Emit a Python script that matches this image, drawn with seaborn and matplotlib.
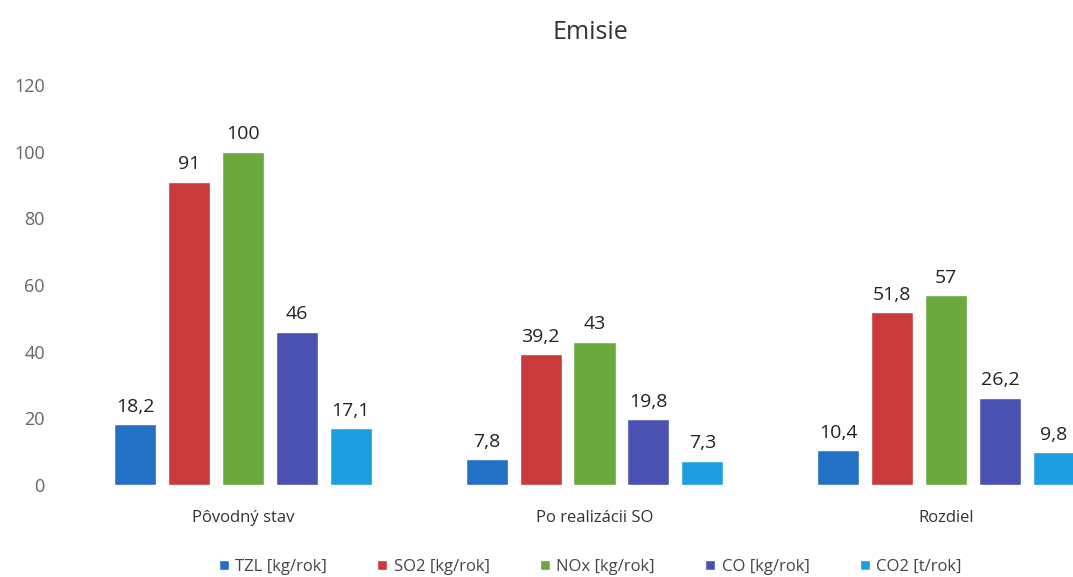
"""Grouped bar chart of emissions before/after the project."""

import matplotlib

matplotlib.use("Agg")

import matplotlib.pyplot as plt
import pandas as pd
import seaborn as sns

categories = ["Pôvodný stav", "Po realizácii SO", "Rozdiel"]
series = ["TZL [kg/rok]", "SO2 [kg/rok]", "NOx [kg/rok]", "CO [kg/rok]", "CO2 [t/rok]"]
tzl = [18.2, 7.8, 10.4]
so2 = [91, 39.2, 51.8]
nox = [100, 43, 57]
co = [46, 19.8, 26.2]
co2 = [17.1, 7.3, 9.8]
colors = ["#2371c4", "#c83a3c", "#6ba93c", "#4b51b1", "#1c9ee0"]

rows = []
for name, values in zip(series, [tzl, so2, nox, co, co2]):
    for cat, val in zip(categories, values):
        rows.append({"kategoria": cat, "seria": name, "hodnota": val})
data = pd.DataFrame(rows)

sns.set_theme(style="white")
plt.rcParams["font.family"] = ["Open Sans", "DejaVu Sans"]

fig = plt.figure(figsize=(10.73, 5.77), dpi=100)
ax = fig.add_axes([67 / 1073, 92 / 577, 1055 / 1073, 400 / 577])

sns.barplot(
    data=data, x="kategoria", y="hodnota", hue="seria",
    order=categories, hue_order=series, palette=colors,
    width=0.767, gap=0.22, saturation=1, ax=ax,
)

def fmt(v):
    return f"{v:g}".replace(".", ",")

for container in ax.containers:
    ax.bar_label(container, labels=[fmt(b.get_height()) for b in container],
                 padding=6, fontsize=14, color="#222222")

ax.set_ylim(0, 120)
ax.set_yticks(range(0, 121, 20))
ax.set_xlabel("")
ax.set_ylabel("")
ax.tick_params(axis="y", labelsize=13, labelcolor="#666666", pad=16, length=0)
ax.tick_params(axis="x", labelsize=12, labelcolor="#333333", pad=18, length=0)
sns.despine(ax=ax, left=True, bottom=True)

fig.suptitle("Emisie", x=0.55, y=0.965, fontsize=18, color="#333333")

handles, labels = ax.get_legend_handles_labels()
ax.legend_.remove()
fig.legend(handles, labels, loc="lower center", bbox_to_anchor=(0.55, -0.022),
           ncol=5, frameon=False, fontsize=12, handlelength=0.6,
           handleheight=0.6, handletextpad=0.4, columnspacing=3.0,
           labelcolor="#444444")

fig.savefig("out.png", dpi=100)
